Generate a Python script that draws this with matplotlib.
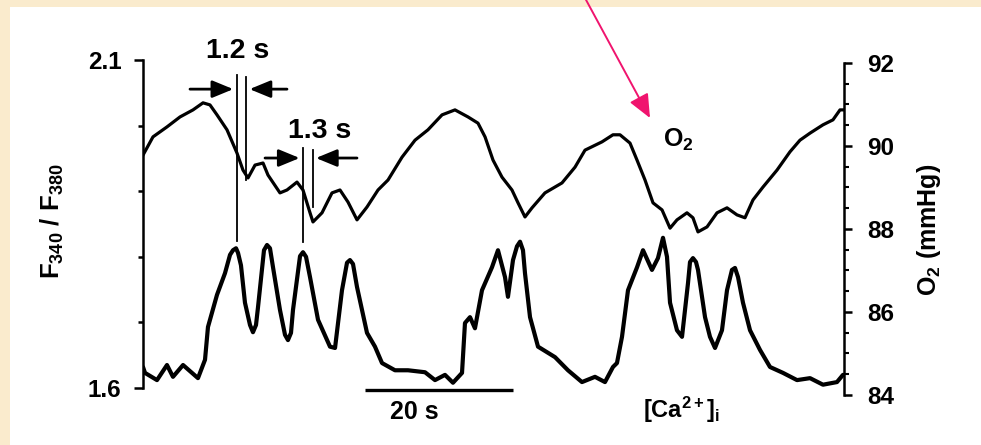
import matplotlib
matplotlib.use("Agg")
import matplotlib.pyplot as plt
from matplotlib.patches import Rectangle

plt.rcParams['font.family'] = ['Liberation Sans', 'DejaVu Sans']
plt.rcParams['font.weight'] = 'bold'
plt.rcParams['mathtext.fontset'] = 'custom'
plt.rcParams['mathtext.rm'] = 'Liberation Sans:bold'
plt.rcParams['mathtext.it'] = 'Liberation Sans:bold'
plt.rcParams['mathtext.bf'] = 'Liberation Sans:bold'

# ---- O2 trace (time in s, O2 in mmHg) ----
o2_time = [0.0, 1.35, 3.24, 5.0, 6.76, 8.11, 9.05, 10.0, 11.35, 12.7, 13.51, 14.19,
           15.14, 16.22, 16.89, 18.51, 19.46, 20.81, 21.62, 22.57, 22.97, 24.19, 25.54,
           26.62, 27.7, 28.92, 30.27, 31.76, 33.11, 35.0, 36.76, 38.51, 40.41, 42.16,
           43.92, 45.27, 46.22, 47.3, 48.51, 49.86, 50.68, 51.62, 52.57, 54.32, 56.62,
           58.38, 59.73, 62.03, 63.51, 64.46, 65.81, 66.76, 67.84, 68.92, 70.14, 71.22,
           72.16, 73.51, 74.32, 75.0, 76.22, 77.57, 78.92, 80.27, 81.35, 82.43, 83.78,
           85.68, 87.43, 88.78, 90.14, 91.89, 93.24, 94.19, 94.59]
o2_mmhg = [89.78, 90.22, 90.46, 90.70, 90.87, 91.04, 90.99, 90.75, 90.39, 89.83, 89.42, 89.23,
           89.54, 89.59, 89.30, 88.87, 88.94, 89.13, 88.94, 88.39, 88.17, 88.39, 88.87,
           88.94, 88.65, 88.22, 88.53, 88.94, 89.18, 89.73, 90.14, 90.39, 90.75, 90.87,
           90.70, 90.55, 90.22, 89.66, 89.25, 88.94, 88.63, 88.29, 88.51, 88.87, 89.11,
           89.49, 89.90, 90.10, 90.27, 90.27, 90.07, 89.66, 89.18, 88.63, 88.46, 88.02,
           88.22, 88.39, 88.27, 87.93, 88.05, 88.39, 88.51, 88.34, 88.27, 88.70, 89.01,
           89.42, 89.86, 90.14, 90.31, 90.51, 90.63, 90.87, 90.87]

# ---- [Ca2+]i trace (time in s, F340/F380 ratio) ----
ca_time = [0.0, 0.27, 1.89, 3.24, 4.05, 5.41, 7.43, 8.38, 8.78, 10.0, 11.08, 11.76, 12.16,
           12.57, 12.84, 13.24, 13.78, 14.46, 14.86, 15.27, 15.54, 16.35, 16.76, 17.16,
           17.57, 18.51, 19.19, 19.59, 20.0, 20.27, 21.22, 21.62, 22.03, 22.57, 23.65,
           25.27, 25.95, 26.89, 27.57, 27.97, 28.38, 28.92, 30.27, 31.35, 32.3, 34.05,
           35.81, 38.11, 39.46, 40.81, 41.89, 43.11, 43.51, 44.19, 44.86, 45.81, 47.16,
           47.97, 48.92, 49.32, 50.0, 50.54, 50.95, 51.35, 51.62, 52.3, 53.38, 55.68,
           57.43, 59.32, 61.08, 62.43, 63.51, 64.05, 64.73, 65.54, 66.76, 67.57, 68.78,
           69.59, 70.27, 70.81, 71.22, 72.16, 72.84, 73.65, 73.92, 74.32, 74.73, 75.0,
           75.95, 76.62, 77.30, 78.24, 78.92, 79.59, 80.0, 80.41, 81.08, 82.03, 83.38,
           84.73, 86.49, 88.38, 90.14, 91.89, 93.78, 94.59]
ca_ratio = [1.632, 1.623, 1.612, 1.635, 1.617, 1.635, 1.615, 1.643, 1.693, 1.742, 1.775, 1.803, 1.810,
            1.813, 1.806, 1.787, 1.730, 1.696, 1.685, 1.696, 1.723, 1.810, 1.818, 1.813,
            1.784, 1.719, 1.681, 1.673, 1.684, 1.719, 1.801, 1.807, 1.800, 1.769, 1.704,
            1.663, 1.661, 1.749, 1.791, 1.795, 1.789, 1.754, 1.684, 1.663, 1.638, 1.627,
            1.627, 1.624, 1.612, 1.620, 1.608, 1.623, 1.699, 1.708, 1.691, 1.749, 1.784,
            1.810, 1.769, 1.739, 1.795, 1.816, 1.823, 1.810, 1.775, 1.708, 1.663, 1.647,
            1.627, 1.609, 1.617, 1.609, 1.632, 1.638, 1.678, 1.749, 1.784, 1.810, 1.780,
            1.798, 1.829, 1.800, 1.730, 1.688, 1.678, 1.760, 1.792, 1.798, 1.792, 1.780,
            1.708, 1.678, 1.661, 1.688, 1.749, 1.780, 1.783, 1.769, 1.730, 1.688, 1.658,
            1.632, 1.623, 1.612, 1.615, 1.605, 1.609, 1.620]

ratio_ticks = [1.6, 2.1]
ratio_tick_labels = ['1.6', '2.1']
ratio_minor_ticks = [1.7, 1.8, 1.9, 2.0]
o2_ticks = [84, 86, 88, 90, 92]
o2_tick_labels = ['84', '86', '88', '90', '92']
o2_minor_ticks = [84.5, 85, 85.5, 86.5, 87, 87.5, 88.5, 89, 89.5, 90.5, 91, 91.5]

# time lags between Ca peaks and O2 dips (s)
lag1_start, lag1 = 12.7, 1.2
lag2_start, lag2 = 21.62, 1.3
scale_start, scale_len = 30.0, 20

W, H = 981, 445
fig = plt.figure(figsize=(W / 100, H / 100), dpi=100, facecolor='#FAEBCD')
fig.patches.append(Rectangle((10 / W, 0), 1, 1 - 7 / H, transform=fig.transFigure,
                             facecolor='white', edgecolor='none', zorder=-10))

ax = fig.add_axes([143 / W, 1 - 395 / H, 701 / W, 335 / H])
ax.patch.set_visible(False)
ax2 = ax.twinx()
ax2.patch.set_visible(False)

ax.plot(ca_time, ca_ratio, color='black', lw=3.0, solid_joinstyle='round', solid_capstyle='round')
ax2.plot(o2_time, o2_mmhg, color='black', lw=2.3, solid_joinstyle='round')

ax.set_xlim(0, 94.73)
ax.set_ylim(1.5893, 2.1)
ax2.set_ylim(84, 92.072)

for a in (ax, ax2):
    for s in ('top', 'bottom'):
        a.spines[s].set_visible(False)
ax.spines['right'].set_visible(False)
ax2.spines['left'].set_visible(False)
ax.spines['left'].set_bounds(1.6, 2.1)
ax2.spines['right'].set_bounds(84, 92)
ax.spines['left'].set_linewidth(1.8)
ax2.spines['right'].set_linewidth(1.8)
ax.set_xticks([])

ax.set_yticks(ratio_ticks)
ax.set_yticklabels(ratio_tick_labels)
ax.set_yticks(ratio_minor_ticks, minor=True)
ax.tick_params(axis='y', which='major', length=6.5, width=1.8, pad=9, labelsize=17.5)
ax.tick_params(axis='y', which='minor', length=3.5, width=1.8)

ax2.set_yticks(o2_ticks)
ax2.set_yticklabels(o2_tick_labels)
ax2.set_yticks(o2_minor_ticks, minor=True)
ax2.tick_params(axis='y', which='major', length=5.5, width=1.8, pad=11, labelsize=17.5)
ax2.tick_params(axis='y', which='minor', length=3.5, width=1.5)

fig.text(52 / W, 1 - 221 / H, r'F$_{340}$ / F$_{380}$', rotation=90, ha='center', va='center',
         fontsize=18.5, fontweight='bold')
fig.text(929 / W, 1 - 230 / H, r'O$_2$ (mmHg)', rotation=90, ha='center', va='center',
         fontsize=18, fontweight='bold')

# lag markers
lk = dict(color='black', lw=1.3)
ax2.plot([lag1_start, lag1_start], [91.71, 87.71], **lk)
ax2.plot([lag1_start + lag1] * 2, [91.66, 89.18], **lk)
ax2.plot([lag2_start, lag2_start], [89.95, 87.69], **lk)
ax2.plot([lag2_start + lag2] * 2, [89.90, 88.53], **lk)

ap = dict(arrowstyle='-|>,head_length=0.85,head_width=0.35', color='black', lw=2.0,
          mutation_scale=15, shrinkA=0, shrinkB=0)
ax2.annotate('', xy=(lag1_start - 0.5, 91.37), xytext=(6.35, 91.37), arrowprops=ap)
ax2.annotate('', xy=(lag1_start + lag1 + 0.5, 91.37), xytext=(19.46, 91.37), arrowprops=ap)
ax2.annotate('', xy=(lag2_start - 0.45, 89.71), xytext=(16.49, 89.71), arrowprops=ap)
ax2.annotate('', xy=(lag2_start + lag2 + 0.45, 89.71), xytext=(28.92, 89.71), arrowprops=ap)
ax2.text(12.84, 92.30, f'{lag1} s', ha='center', va='center', fontsize=20.5, fontweight='bold')
ax2.text(23.92, 90.36, f'{lag2} s', ha='center', va='center', fontsize=20.5, fontweight='bold')

ax2.text(72.3, 90.14, r'O$_2$', ha='center', va='center', fontsize=18, fontweight='bold')

# time scale bar
ax.plot([scale_start, scale_start + scale_len], [1.597, 1.597], color='black', lw=2.4,
        solid_capstyle='butt', clip_on=False)
ax.text(36.6, 1.5634, f'{scale_len} s', ha='center', va='center', fontsize=18, fontweight='bold')
ax.text(72.84, 1.5665, r'[Ca$^{2+}$]$_{\rm i}$', ha='center', va='center', fontsize=17,
        fontweight='bold')

# pointer arrow
ax.annotate('', xy=(650, H - 118), xytext=(585, H + 2), xycoords='figure pixels',
            textcoords='figure pixels',
            arrowprops=dict(arrowstyle='-|>,head_length=0.8,head_width=0.35', color='#F0146E',
                            lw=1.4, mutation_scale=18, shrinkA=0, shrinkB=0),
            annotation_clip=False)

fig.savefig('out.png', dpi=100, facecolor=fig.get_facecolor())
